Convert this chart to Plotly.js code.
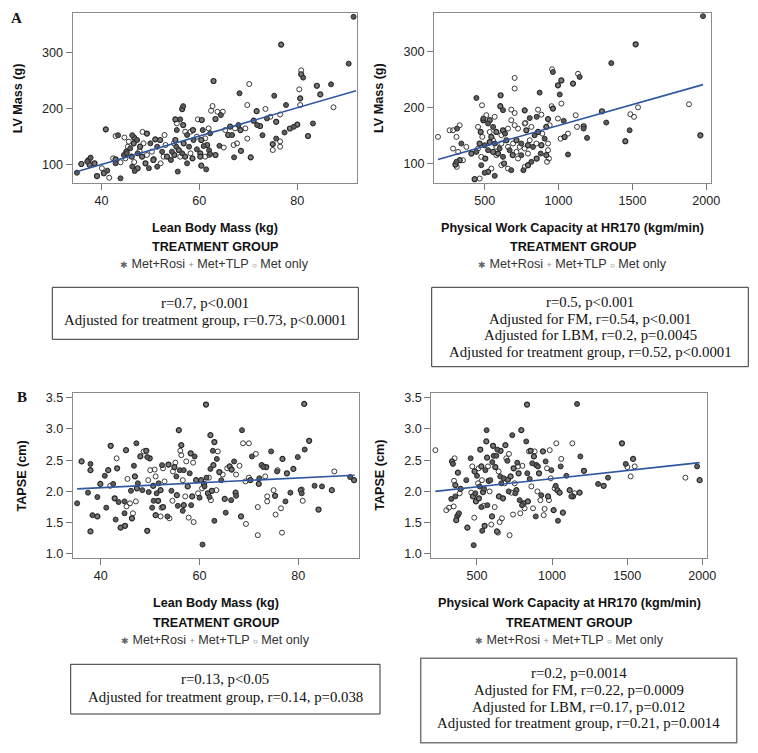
<!DOCTYPE html>
<html>
<head>
<meta charset="utf-8">
<script src="https://cdn.plot.ly/plotly-3.0.1.min.js"></script>
<style>html,body{margin:0;padding:0;background:#fff;}#chart{width:758px;height:753px;}</style>
</head>
<body>
<div id="chart"></div>
<script>
// ---------------- DATA ----------------
const groupNames = {R: "Met+Rosi", T: "Met+TLP", O: "Met only"};

// Panel A (left): Lean Body Mass (kg) vs LV Mass (g)
const lbmA = [91.5,76.7,90.5,62.9,70.2,68.2,80.8,80.8,81.2,80.4,
84,86.9,87.4,84.7,75.3,80.6,80.6,77.7,73.5,71.7,
69.8,76.5,80,79.3,78.5,77.4,75.7,75.7,76.5,76.5,
75,75,72.9,82.2,83.2,69.8,70.5,67.1,68.5,65,
64.1,63.3,62,61.4,60.4,62,60.2,55.6,52.1,50.7,
49,49.7,47.4,46.7,46.3,47.8,48.4,49.3,46.3,46.7,
43.4,42.9,44.7,40.9,43.9,41.6,39.1,41.2,40.5,46.8,
38.6,37.8,37.4,37.1,35.9,35,37.6,40.1,42.4,42.9,
42.9,44.9,44.6,45.1,45.4,45.6,45.9,46.6,47.3,47.9,
48.6,47.4,48.3,49.3,50,50.3,51,51.4,52,52.4,
52.7,53.1,52.9,53.4,54.4,54.8,55.1,55.3,55.8,56.1,
56.5,56.8,55.4,55.1,56.1,56.5,56.7,55.4,56.7,57.1,
57.5,58.2,58.7,58.8,59.5,59.7,60.5,60.7,60.4,60.9,
61.2,61.6,61.9,62.2,62.4,62.7,63.3,63.7,64.4,64.8,
65.3,66.3,67.3,68,68.4,69.4,66.7,67,67.7,71.1,
71.8,72.4,73.8,74.5,65.9,57.9,58.2,58.6,59.5,57.1,
57.5,60.2,54.2,54.9,51.4,50.6,43.9,45.2,46.2,61.2,
62.2];
const lvA = [363.7,314,280,249,243.5,227,268,261,255,234,
240.5,243,202,225,222.6,218,206,206,199,195,
206,189,171,167,164,157,176,146,141,131.5,
125.6,136,152,150.6,173,146,112.5,112.5,124,130,
133,116.7,116.7,91,97.6,125,119.6,87,101.8,109.5,
101.8,93,93,104,96,124,158,155,152,147.6,
152,150.6,148,162.5,75,76,79,88.7,84,88,
101.8,112,107.7,104.8,100.6,85,99,93,110.7,101.8,
109,110.7,116.7,122.6,131.5,140.5,128.6,137.5,143.5,131.5,
137.5,119.6,113.7,116.7,137.5,122.6,144.6,131.5,143.5,122.6,
113.7,134.5,152.4,113.7,122.6,137.5,143.5,131.5,125.6,113.7,
119.6,137.5,161.3,180.4,180.4,198.8,204,173.2,170.2,158.3,
152.4,158.3,161.3,143.5,149.4,180.4,179.2,161.3,143.5,132.7,
146.4,134.5,164.3,155.4,195.8,204.2,181,194,188,194,
161.3,167.3,164.3,170.2,161.3,164.3,152.4,134.5,137.5,178,
170.2,168.5,182,185,152.4,131.5,119.6,110.7,126.8,113.7,
101.8,113.7,107.7,116.7,95.8,107.7,103.6,119.6,113.7,113.7,
118.5];
const grpA = ("RTRTOROTRO"+"TROTRTOROT"+"OOTRTRTROO"+"OTRTROTRTO"+"RTORTRTROO"+
  "TRTOROOTRT"+"ROOTROTRTR"+"TRTRTRTOOR"+"TORTOORTRT"+"ORTOROTRTR"+
  "OOOTROTRTO"+"RTRTRTROTO"+"ROTROOTRTR"+"OTOROOTORO"+"OTORTOROOT"+
  "RTROTROTRT"+"RTRTRTORTO"+"R").split("");
const fitA1X = [34.9, 92];
const fitA1Y = [86.9, 231.5];

// Panel A (right): Physical Work Capacity at HR170 vs LV Mass (g)
const pwcA = [1978,1522,1357,1960,1883,1538,1486,1511,1481,1452,
1323,1294,1193,1170,1170,1125,1116,1098,1132,1143,
1019,1008,996,956,962,1019,953,962,996,1035,
1064,1041,1014,1064,940,917,872,703,703,608,
482,444,606,624,680,703,771,805,861,884,
929,852,776,703,680,624,638,658,726,771,
782,816,838,861,890,906,929,929,917,935,
922,879,852,816,793,771,762,726,690,680,
658,631,613,624,590,568,545,523,500,466,
432,477,504,477,444,410,376,342,320,331,
309,302,311,353,286,309,263,286,313,331,
184,455,473,484,491,491,511,523,534,545,
557,568,579,534,500,466,455,523,557,579,
601,613,647,658,669,692,715,737,748,771,
793,805,827,850,884,793,748,715,613,579,
557,534,568];
const lvA2 = [364,313.6,280,151,206.5,201,188.7,184,160,140.5,
173.8,194,146.4,167.2,163,166,186.9,243.4,261,255.3,
249,224,240.4,269,264,207.7,203,198.8,181,176.8,
154,148,145,116.7,169,166,227.3,253.5,234.5,222.6,
204.7,217.8,203,196,197,190.8,195.6,181.8,196.8,187.9,
180,184,173.2,169,178,160,154,163,163,172,
160,166,151,157,154,145,136.3,124.4,115.5,109.5,
103.6,118.4,109.5,103.6,97.6,94.6,88.7,109.5,115.5,88.7,
91.7,100.6,97.6,112.5,118.4,78.6,91.7,85.7,84,73.8,
72.6,97.6,109.5,112.5,121.4,118.4,130.3,136.3,121.4,106.5,
103.6,98.8,94.6,106.5,127.4,148.2,160,160,163,169,
148.2,166,157,148.2,181,178,187,172,157,148.2,
142,136.3,130.3,139,133.3,136.3,127.4,124.4,121.4,115.5,
127.4,136.3,142.2,130.3,124.4,136.3,142.2,130.3,136.3,127.4,
133.3,142.2,130.3,136.3,133.3,118.4,115.5,121.4,151.2,157,
166,178,184];
const grpA2 = ("RTRTOOOORT"+"RTRTROOTOR"+"TRTOROOTOR"+"OTOROTROOT"+"ORTROOTROO"+
  "TROOOTROOO"+"TORTOROOTO"+"ORTRTOROTR"+"OTORTROTRO"+"TRTORTOROT"+
  "RTOOOOOORO"+"OOTORTOROT"+"OROTRTORTO"+"ROTOROTORO"+"TOROTOROOT"+
  "RTO").split("");
const fitA2X = [184, 1978];
const fitA2Y = [107.7, 241.6];

// Panel B (left): Lean Body Mass (kg) vs TAPSE (cm)
const lbmB = [35.2,36.1,37.9,37.9,37.4,37.9,38.3,39.3,39.3,39.9,
40.8,41.5,41.1,42.0,41.9,42.5,42.8,43.0,43.2,43.3,
43.6,44.0,44.8,44.9,44.8,45.1,45.2,45.4,45.9,46.1,
46.3,46.5,46.7,46.9,47.1,47.2,47.3,47.5,48.0,48.4,
48.7,49.2,49.4,49.4,49.6,49.7,49.9,50.0,50.4,50.6,
50.7,50.9,51.1,51.1,51.3,51.6,51.7,52.1,52.1,52.3,
52.4,52.6,52.6,52.9,53.5,53.7,53.9,54.3,54.5,54.6,
54.9,55.1,55.3,55.4,55.6,55.8,56.0,56.1,56.3,56.3,
56.6,56.6,56.8,56.8,57.1,57.3,57.6,57.8,58.0,58.2,
58.3,58.5,58.7,58.8,59.0,59.3,59.7,60.0,60.3,60.5,
60.6,60.9,61.0,61.3,61.4,61.7,61.9,62.0,62.2,62.2,
62.3,62.5,62.7,62.8,63.0,63.0,63.4,63.5,63.7,64.0,
64.4,64.7,65.1,65.3,65.6,66.1,66.4,66.5,67.0,67.3,
67.4,67.4,68.1,68.4,68.6,68.8,69.3,69.4,70.0,70.0,
70.3,70.6,71.4,71.8,71.8,72.0,72.1,72.6,72.9,73.3,
73.5,73.7,73.7,74.5,75.0,75.3,75.4,75.7,75.8,76.5,
76.7,76.8,77.4,77.7,78.4,79.0,79.9,80.5,80.7,80.7,
80.9,81.2,81.3,82.2,83.3,84.1,84.8,86.8,87.3,90.5,91.3];
const tapseB = [1.81,2.48,2.44,2.34,1.98,1.36,1.62,1.60,1.91,2.12,
2.25,2.34,1.74,2.73,2.09,2.12,1.89,1.55,2.53,2.37,
1.83,1.42,1.65,1.45,1.84,2.66,1.76,2.20,1.81,2.01,
1.57,1.65,2.41,2.24,1.84,2.77,2.05,2.13,2.56,2.02,
2.64,2.65,2.55,1.37,2.18,1.99,2.53,2.34,1.74,2.09,
1.85,2.35,2.24,1.62,1.97,1.85,2.13,1.60,2.02,1.74,
2.42,1.75,2.37,2.16,1.60,2.43,1.57,2.01,1.85,2.32,
2.39,2.46,2.24,1.94,1.77,2.98,2.34,2.65,2.74,2.58,
1.69,2.18,1.78,2.34,1.92,2.48,2.08,1.58,2.29,2.61,
1.78,1.92,2.46,1.51,2.56,2.18,1.97,1.90,2.18,2.05,
1.15,2.12,2.08,3.39,2.22,1.97,2.22,1.91,2.90,2.36,
1.86,2.01,2.65,2.42,1.53,2.79,2.02,2.52,2.64,2.31,
2.18,2.27,1.88,1.66,2.37,2.40,1.86,2.35,2.48,1.98,
1.93,2.27,2.41,1.60,2.98,2.77,2.16,1.48,2.77,2.22,
2.18,2.56,2.60,1.75,1.30,2.12,2.21,2.42,2.39,2.24,
2.39,1.92,1.84,2.64,2.02,1.93,1.63,2.32,2.34,1.73,
1.34,2.52,1.84,2.29,1.98,2.36,2.55,2.02,1.97,2.03,
1.85,3.40,2.67,2.81,2.09,1.71,2.08,2.02,2.32,2.23,2.18];
const grpB = ("RTRTRTRTRT"+"RTRTORTROT"+"RTRTRTOOOR"+"TORTORTRTR"+"OTRTORTORT"+
  "ROOTRTROTO"+"RTOORTOROO"+"TORTRTROTO"+"ROTROOTORT"+"RTOORTORTO"+
  "RTRTRTORTR"+"OTRTRTOROT"+"ROTROTRTRT"+"ROOTROOOOO"+"TROOOTRTRO"+
  "TOOROTOROO"+"OTRTRTRTRO"+"OTRTRTRTORT").split("");
const fitB1X = [35.2, 91.4];
const fitB1Y = [2.04, 2.26];

// Panel B (right): Physical Work Capacity at HR170 vs TAPSE (cm)
const pwcB = [223,296,314,329,334,340,345,347,351,356,
356,362,367,373,373,380,385,391,429,436,
458,462,469,473,478,482,484,489,493,500,
507,511,513,518,522,529,529,533,535,540,
544,547,551,556,562,564,567,569,573,578,
584,589,595,600,602,607,611,618,622,629,
633,635,640,644,646,651,655,657,662,666,
673,678,684,689,695,702,706,711,713,717,
724,729,735,740,744,751,755,762,768,773,
777,784,788,795,800,802,811,817,828,833,
835,839,846,851,857,862,868,873,879,884,
891,895,902,906,913,922,928,939,944,950,
957,966,973,979,984,991,995,1010,1017,1024,
1028,1035,1039,1050,1057,1061,1072,1095,1117,1128,
1135,1139,1150,1166,1183,1188,1212,1306,1343,1372,
1465,1490,1501,1523,1539,1550,1887,1965,1982];
const tapseB2 = [2.66,1.70,1.74,1.88,2.48,2.44,1.76,2.17,2.53,2.10,
1.92,1.54,1.60,1.62,2.30,1.65,1.97,2.04,2.18,1.42,
2.53,1.98,2.40,1.92,1.14,1.58,2.32,1.97,1.84,2.25,
2.13,2.37,1.89,2.08,2.67,1.75,2.40,2.18,1.37,1.99,
1.77,2.04,1.45,2.34,2.80,2.98,2.54,1.78,2.40,2.17,
2.00,2.18,1.47,1.60,2.47,2.73,2.57,1.75,2.39,2.57,
1.36,2.67,1.34,2.32,1.92,1.51,2.24,2.65,2.13,1.57,
1.89,2.21,2.13,2.74,2.53,2.49,2.19,2.00,2.60,1.30,
2.24,1.98,2.90,1.63,2.37,2.13,1.97,2.02,2.46,2.40,
2.29,1.86,1.65,2.98,1.78,2.41,1.81,1.73,2.80,3.39,
2.29,1.84,2.64,2.20,2.65,2.08,2.45,1.73,2.56,2.64,
1.60,2.42,2.00,2.40,2.29,1.86,1.94,2.64,1.62,1.72,
2.48,2.37,1.92,1.86,2.66,2.21,2.34,1.70,2.05,2.09,
2.77,2.02,1.53,1.98,2.40,2.52,1.66,2.25,2.02,1.92,
2.77,1.92,1.97,3.40,1.98,2.56,2.33,2.12,2.09,2.22,
2.77,2.44,2.39,2.24,2.52,2.40,2.22,2.40,2.18];
const grpB2 = ("OOORTROOOT"+"RTORTROTRT"+"ROOTROTRTR"+"OOTRTRTORT"+"ORTRTRTROT"+
  "OROTRTROTR"+"TROOTORTRO"+"TROTORTROO"+"TOROTORTRO"+"TROTROTORT"+
  "RTORTOROTO"+"RTORTORTOO"+"ROTOOORTOR"+"OTRTROTRTR"+"OTORTRTRTR"+
  "TROOTOORT").split("");
const fitB2X = [223, 1982];
const fitB2Y = [2.00, 2.46];

// Tick values / labels
const lbmTicks = [40, 60, 80];
const pwcTicks = [500, 1000, 1500, 2000];
const lvTicks = [100, 200, 300];
const tapseTicks = [1.0, 1.5, 2.0, 2.5, 3.0, 3.5];

// Statistics text
const statsA1 = ["r=0.7, p<0.001", "Adjusted for treatment group, r=0.73, p<0.0001"];
const statsA2 = ["r=0.5, p<0.001", "Adjusted for FM, r=0.54, p<0.001", "Adjusted for LBM, r=0.2, p=0.0045", "Adjusted for treatment group, r=0.52, p<0.0001"];
const statsB1 = ["r=0.13, p<0.05", "Adjusted for treatment group, r=0.14, p=0.038"];
const statsB2 = ["r=0.2, p=0.0014", "Adjusted for FM, r=0.22, p=0.0009", "Adjusted for LBM, r=0.17, p=0.012", "Adjusted for treatment group, r=0.21, p=0.0014"];

// ---------------- STYLES ----------------
const W = 758, H = 753;
const SANS = "Liberation Sans, Arial, sans-serif";
const SERIF = "Liberation Serif, Times New Roman, serif";
const markerStyle = {
  R: {symbol: "circle", size: 5, color: "#5a5a5a", line: {color: "#2b2b2b", width: 1}},
  T: {symbol: "circle", size: 5, color: "#7a7a7a", line: {color: "#262626", width: 1.2}},
  O: {symbol: "circle-open", size: 5, color: "#3a3a3a", line: {width: 1}}
};
const px = v => v / W;
const py = v => 1 - v / H;

function scatterTraces(xs, ys, gs, xa, ya) {
  const out = [];
  ["O", "T", "R"].forEach(g => {
    const tx = [], ty = [];
    const n = Math.min(xs.length, ys.length, gs.length);
    for (let i = 0; i < n; i++) if (gs[i] === g) { tx.push(xs[i]); ty.push(ys[i]); }
    out.push({type: "scatter", mode: "markers", name: groupNames[g], x: tx, y: ty,
      xaxis: xa, yaxis: ya, marker: markerStyle[g], showlegend: false, hoverinfo: "skip"});
  });
  return out;
}
function fitTrace(fx, fy, xa, ya) {
  return {type: "scatter", mode: "lines", x: fx, y: fy, xaxis: xa, yaxis: ya,
    line: {color: "#2f56a0", width: 1.6}, showlegend: false, hoverinfo: "skip"};
}

const data = [].concat(
  scatterTraces(lbmA, lvA, grpA, "x", "y"), [fitTrace(fitA1X, fitA1Y, "x", "y")],
  scatterTraces(pwcA, lvA2, grpA2, "x2", "y2"), [fitTrace(fitA2X, fitA2Y, "x2", "y2")],
  scatterTraces(lbmB, tapseB, grpB, "x3", "y3"), [fitTrace(fitB1X, fitB1Y, "x3", "y3")],
  scatterTraces(pwcB, tapseB2, grpB2, "x4", "y4"), [fitTrace(fitB2X, fitB2Y, "x4", "y4")]
);

function axis(extra) {
  return Object.assign({
    showline: true, mirror: true, linecolor: "#8a8a8a", linewidth: 1,
    ticks: "outside", ticklen: 6, tickwidth: 1, tickcolor: "#777",
    showgrid: false, zeroline: false, fixedrange: true,
    tickfont: {family: SANS, size: 12.6, color: "#222"}
  }, extra);
}

const layout = {
  width: W, height: H,
  margin: {l: 0, r: 0, t: 0, b: 0},
  paper_bgcolor: "#fff", plot_bgcolor: "#fff",
  showlegend: false,
  xaxis: axis({domain: [px(72.5), px(357)], anchor: "y", range: [34.1, 92.2], tickvals: lbmTicks}),
  yaxis: axis({domain: [py(183), py(13.3)], anchor: "x", range: [66.6, 370], tickvals: lvTicks}),
  xaxis2: axis({domain: [px(434), px(711)], anchor: "y2", range: [157, 2032], tickvals: pwcTicks}),
  yaxis2: axis({domain: [py(183), py(13.3)], anchor: "x2", range: [65.8, 369], tickvals: lvTicks}),
  xaxis3: axis({domain: [px(72.7), px(359)], anchor: "y3", range: [34.3, 92.3], tickvals: lbmTicks}),
  yaxis3: axis({domain: [py(558.3), py(393.3)], anchor: "x3", range: [0.93, 3.57], tickvals: tapseTicks, tickformat: ".1f"}),
  xaxis4: axis({domain: [px(431.3), px(707.3)], anchor: "y4", range: [196, 2033], tickvals: pwcTicks}),
  yaxis4: axis({domain: [py(558.3), py(393.3)], anchor: "x4", range: [0.93, 3.57], tickvals: tapseTicks, tickformat: ".1f"}),
  annotations: [],
  shapes: []
};

function ann(text, x, y, opts) {
  layout.annotations.push(Object.assign({
    text: text, x: px(x), y: py(y), xref: "paper", yref: "paper",
    xanchor: "center", yanchor: "middle", showarrow: false,
    font: {family: SANS, size: 12.6, color: "#111"}
  }, opts || {}));
}
const boldSans = {family: SANS, size: 12.6, color: "#111", weight: "bold"};
const legendText = '<span style="font-size:9px;color:#666">✱</span> Met+Rosi ' +
  '<span style="font-size:9px;color:#888">+</span> Met+TLP ' +
  '<span style="font-size:8px;color:#555">○</span> Met only';

// Panel letters
ann("A", 16.7, 18, {font: {family: SERIF, size: 15, color: "#111", weight: "bold"}});
ann("B", 21.7, 396.7, {font: {family: SERIF, size: 15, color: "#111", weight: "bold"}});

// Axis titles and group legends
const panels = [
  {cx: 214.75, ytx: 18.3, yty: 98, xt: "Lean Body Mass (kg)", yt: "LV Mass (g)", base: 183},
  {cx: 572.5, ytx: 379, yty: 98, xt: "Physical Work Capacity at HR170 (kgm/min)", yt: "LV Mass (g)", base: 183},
  {cx: 215.85, ytx: 21.7, yty: 475.8, xt: "Lean Body Mass (kg)", yt: "TAPSE (cm)", base: 558.3},
  {cx: 569.3, ytx: 380, yty: 475.8, xt: "Physical Work Capacity at HR170 (kgm/min)", yt: "TAPSE (cm)", base: 558.3}
];
panels.forEach(p => {
  ann(p.xt, p.cx, p.base + 44.6, {font: boldSans});
  ann("TREATMENT GROUP", p.cx, p.base + 64.5, {font: boldSans});
  ann(legendText, p.cx, p.base + 81.2, {font: {family: SANS, size: 12.6, color: "#333"}});
  ann(p.yt, p.ytx, p.yty, {font: boldSans, textangle: -90});
});

// Statistic boxes
function statBox(lines, x0, x1, y0, y1, ys, color, width) {
  layout.shapes.push({type: "rect", xref: "paper", yref: "paper",
    x0: px(x0), x1: px(x1), y0: py(y1), y1: py(y0),
    line: {color: color, width: width}, fillcolor: "rgba(0,0,0,0)"});
  lines.forEach((t, i) => ann(t, (x0 + x1) / 2, ys[i], {font: {family: SERIF, size: 14.8, color: "#111"}}));
}
statBox(statsA1, 52.3, 358.3, 287.3, 339.3, [302.7, 320], "#333", 1);
statBox(statsA2, 431.7, 748.3, 287.3, 366.7, [301.7, 319, 335.3, 351.7], "#333", 1);
statBox(statsB1, 70.7, 380, 664.3, 714, [679.3, 696.7], "#333", 1);
statBox(statsB2, 420.7, 736.7, 658.3, 742.7, [672.7, 690, 706.7, 723.3], "#777", 1.5);

Plotly.newPlot("chart", data, layout, {staticPlot: true, displayModeBar: false});
</script>
</body>
</html>
